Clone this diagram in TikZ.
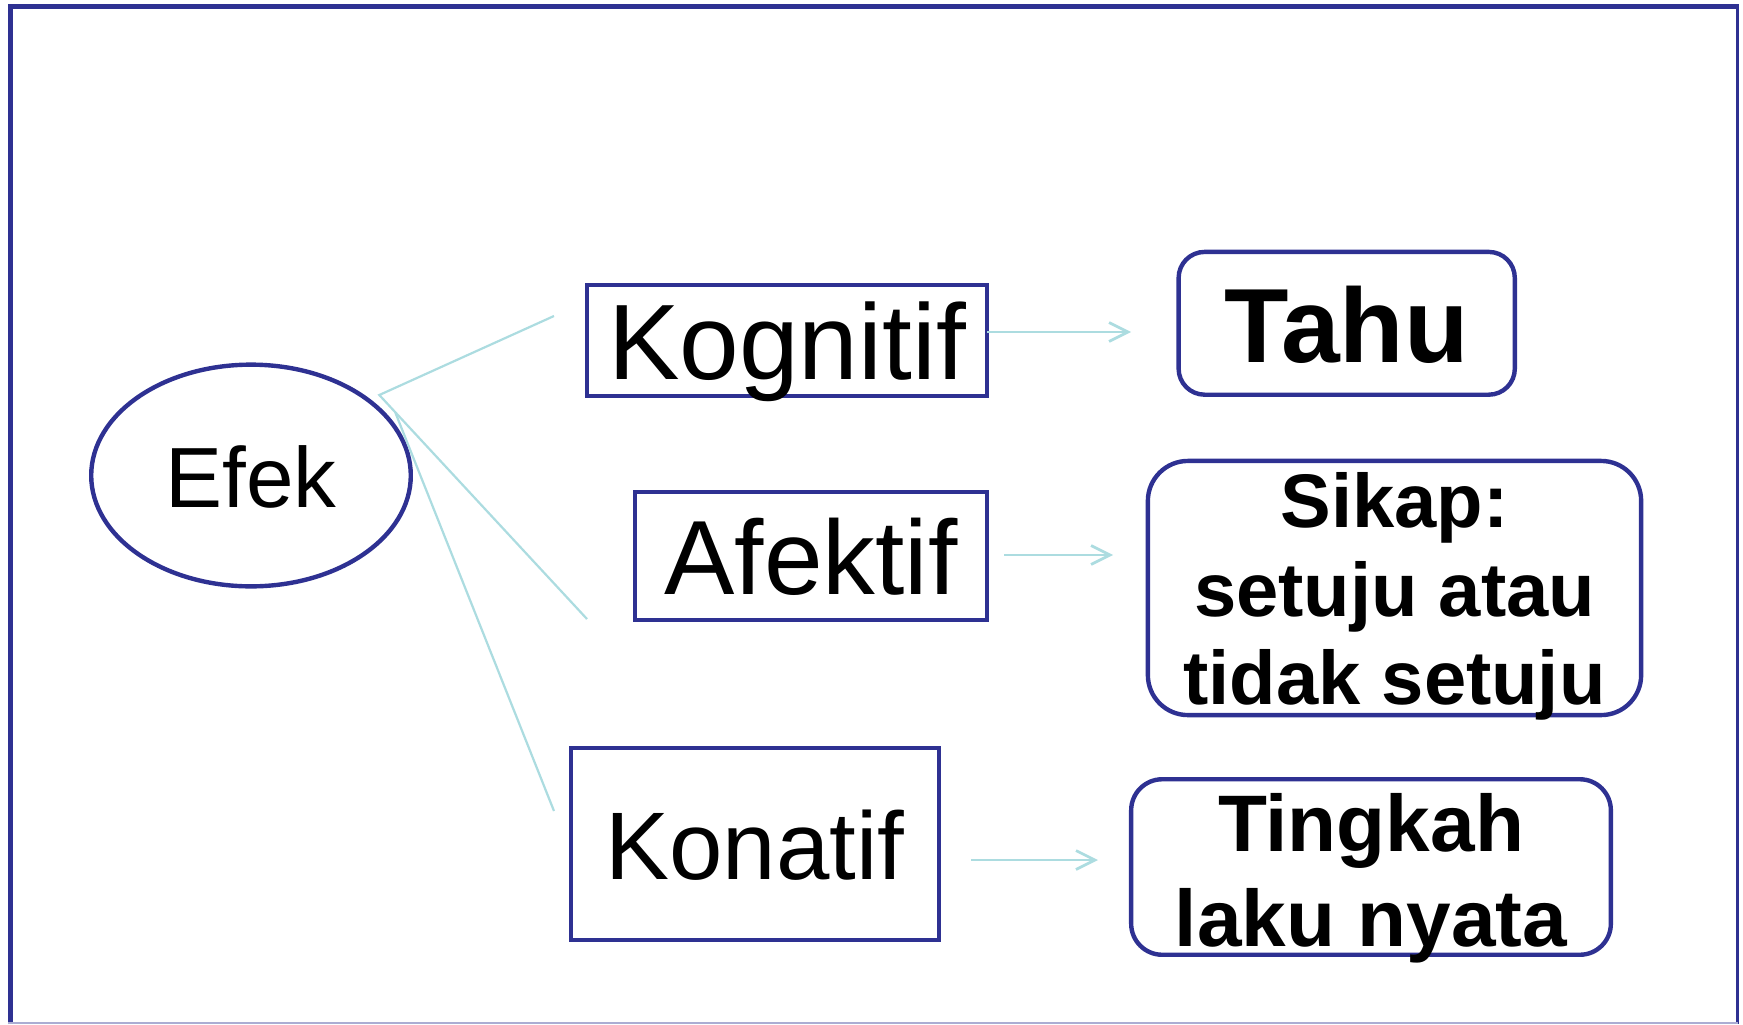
\documentclass[tikz,border=0pt]{standalone}
\usepackage{fontspec}
\setmainfont{Liberation Sans}
\usetikzlibrary{arrows.meta,shapes.geometric}
\definecolor{navy}{RGB}{46,49,146}
\definecolor{linecyan}{RGB}{172,220,224}
\begin{document}
\begin{tikzpicture}[x=0.01cm,y=-0.01cm,
  sqbox/.style={draw=navy,line width=1.25pt,inner sep=0pt,rectangle},
  rbox/.style={sqbox,rounded corners=#1},
  conn/.style={draw=linecyan,line width=0.63pt},
  arr/.style={draw=linecyan,line width=0.77pt,-{Straight Barb[length=5.4pt,width=5.4pt]}},
  frameline/.style={draw=navy}
]
\useasboundingbox (0,0) rectangle (1743,1024);
% frame
\draw[frameline,line width=1.5pt] (10.8,1024) -- (10.8,6.2) -- (1739,6.2);
\draw[frameline,line width=0.8pt] (1737.5,4) -- (1737.5,1024);
\draw[draw=navy!40,line width=0.5pt] (8,1023.3) -- (1737.5,1023.3);

% nodes
\node[ellipse,draw=navy,line width=1.25pt,inner sep=0pt,
      minimum width=3.194cm,minimum height=2.216cm,
      font=\fontsize{24.3}{29}\selectfont,text height=18pt,text depth=0pt]
      (efek) at (251,475.5) {Efek};

\node[sqbox,minimum width=4cm,minimum height=1.11cm,
      font=\fontsize{30.5}{37}\selectfont,text height=22pt,text depth=0pt]
      (kog) at (787,340.5) {Kognitif};

\node[sqbox,minimum width=3.52cm,minimum height=1.28cm,
      font=\fontsize{30}{36}\selectfont,text height=21.8pt,text depth=0pt]
      (afe) at (811,556) {Afektif};

\node[sqbox,minimum width=3.674cm,minimum height=1.917cm,
      font=\fontsize{27.3}{33}\selectfont,text height=20.4pt,text depth=0pt]
      (kon) at (755,844) {Konatif};

\node[rbox=0.26cm,minimum width=3.36cm,minimum height=1.427cm,
      font=\bfseries\fontsize{30}{36}\selectfont,text height=22.4pt,text depth=0pt]
      (tahu) at (1346.7,323.3) {Tahu};

\node[rbox=0.4cm,minimum width=4.93cm,minimum height=2.54cm,
      font=\bfseries\fontsize{21.6}{25.2}\selectfont,text height=16.1pt,text depth=50.4pt]
      (sikap) at (1394.5,588) {\begin{tabular}[t]{@{}c@{}}Sikap:\\setuju atau\\tidak setuju\end{tabular}};

\node[rbox=0.31cm,minimum width=4.794cm,minimum height=1.754cm,
      font=\bfseries\fontsize{22.8}{27}\selectfont,text height=18pt,text depth=27pt]
      (tingkah) at (1371,867) {\begin{tabular}[t]{@{}c@{}}Tingkah\\laku nyata\end{tabular}};

% connectors from Efek
\coordinate (hubA) at (379.3,395);
\coordinate (hubB) at (395.5,413);
\coordinate (kogL) at (554,316);
\coordinate (afeL) at (587,619);
\coordinate (konL) at (554,811);
\draw[conn] (kogL) -- (hubA) -- (afeL);
\draw[conn] (hubB) -- (konL);

% arrows
\coordinate (kogA) at (987,332);
\coordinate (kogB) at (1131,332);
\coordinate (afeA) at (1004,555);
\coordinate (afeB) at (1113,555);
\coordinate (konA) at (971,860);
\coordinate (konB) at (1098,860);
\draw[arr] (kogA) -- (kogB);
\draw[arr] (afeA) -- (afeB);
\draw[arr] (konA) -- (konB);
\end{tikzpicture}
\end{document}
